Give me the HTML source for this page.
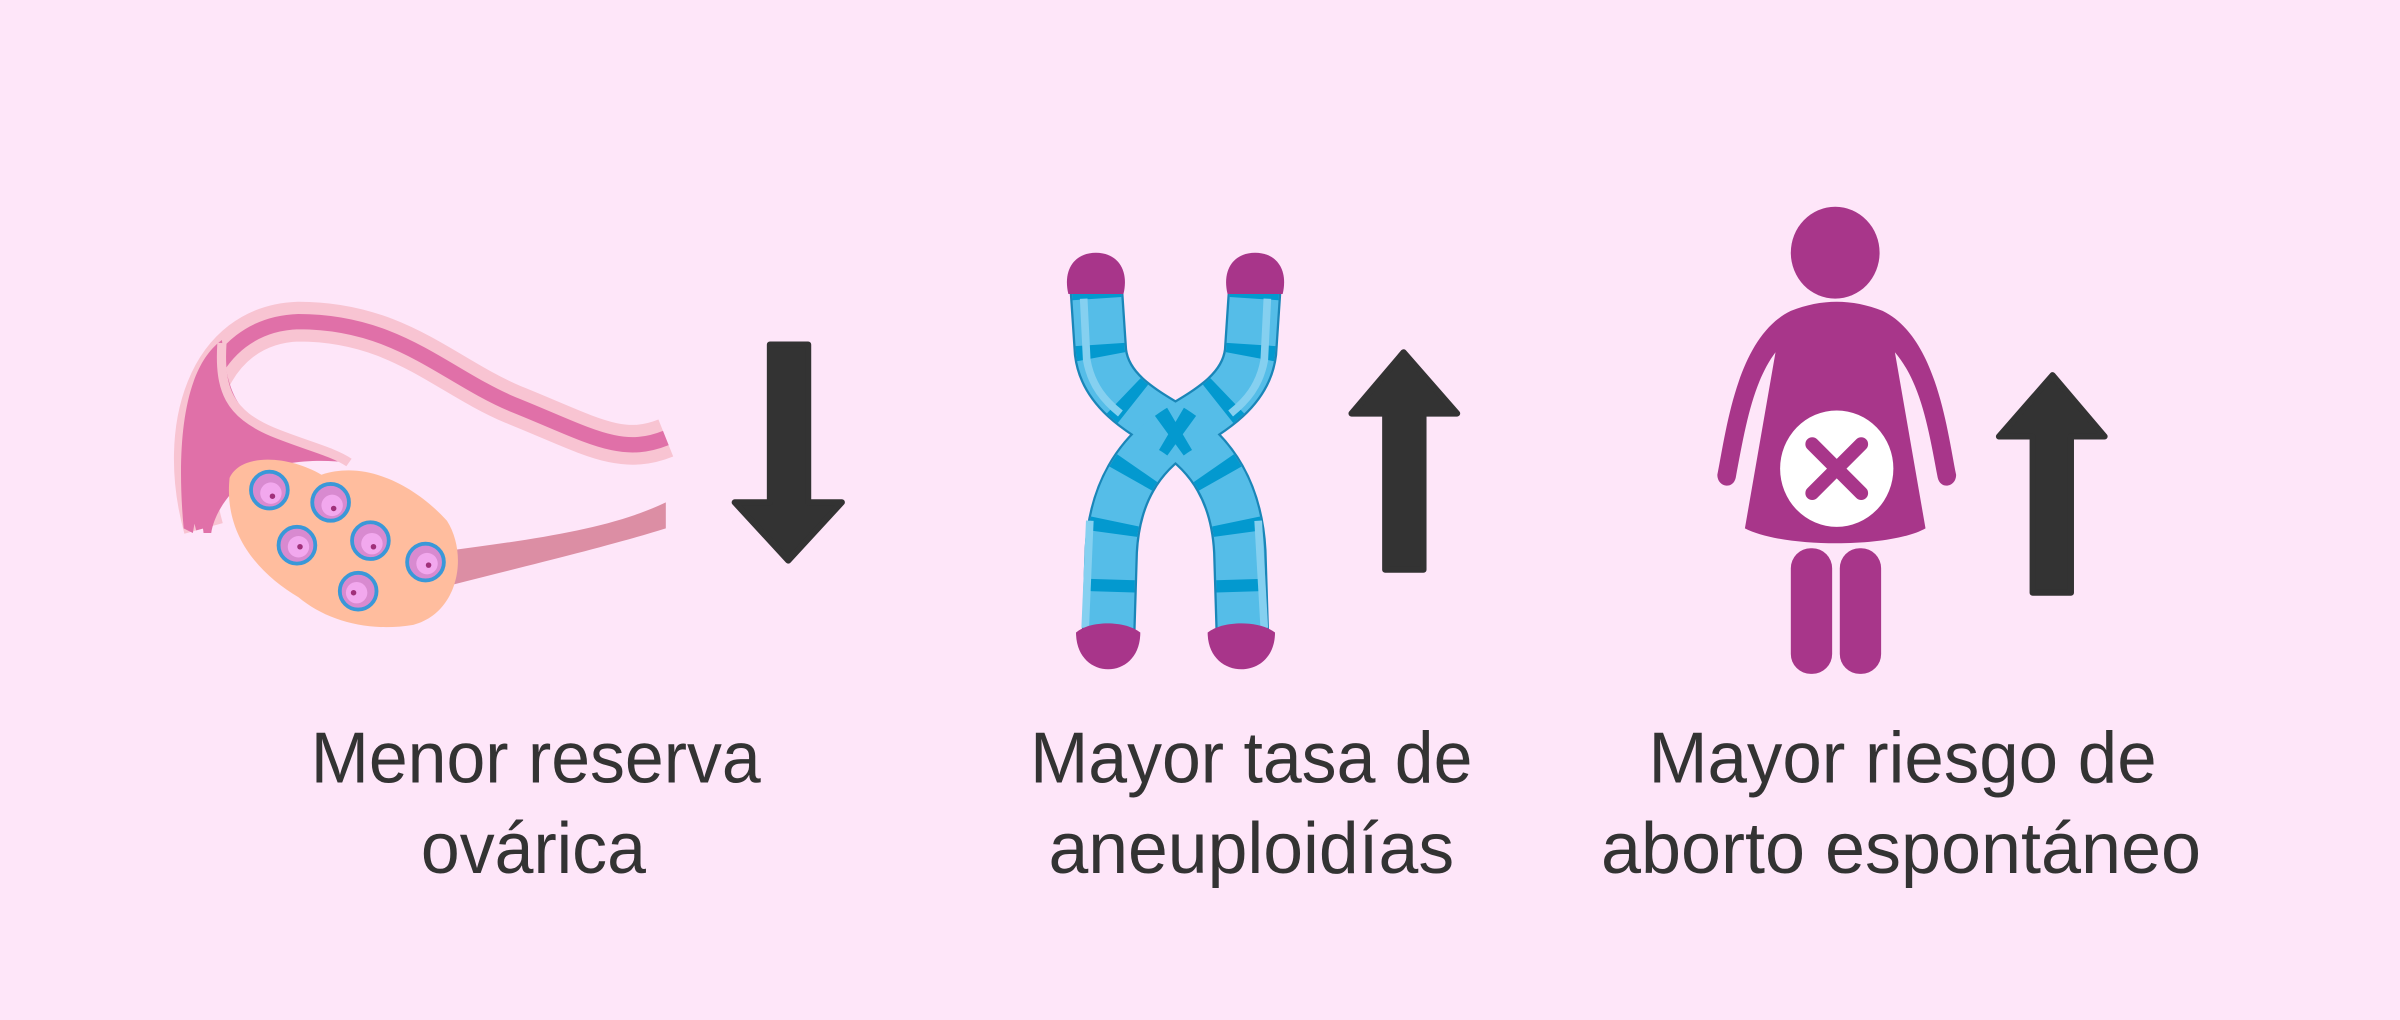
<!DOCTYPE html>
<html><head><meta charset="utf-8"><style>
html,body{margin:0;padding:0;background:#fee6f9;}
svg{display:block;}
text{font-family:"Liberation Sans",sans-serif;fill:#333;font-size:47px;}
</style></head><body>
<svg width="2400" height="1020" viewBox="0 0 1568 666" preserveAspectRatio="none">
<rect width="1568" height="666" fill="#fee6f9"/>
<!-- Ovary / tube -->
<path d="M133 345 C115 280,135 212,195 210 C260 210,290 245,335 264 C385 284,405 298,435 286" fill="none" stroke="#f8c4d2" stroke-width="26"/>
<path d="M133 345 C115 280,135 212,195 210 C260 210,290 245,335 264 C385 284,405 298,435 286" fill="none" stroke="#e070a8" stroke-width="10"/>
<path d="M120 345 C115 290,120 240,145 222 C148 250,152 268,175 280 C195 290,215 292,228 302 C210 300,185 300,165 310 C150 320,140 335,138 348 L133 348 L130 325 L126 348 Z" fill="#e070a8"/>
<path d="M145 224 C143 255,150 270,178 282 C200 291,218 295,228 302" fill="none" stroke="#f8c4d2" stroke-width="6"/>
<path d="M290 360 C350 352,400 345,435 328 L435 345 C400 356,350 368,295 382 Z" fill="#dc8ea4"/>
<path d="M150 312 C158 295,190 298,210 310 C240 300,272 318,292 340 C306 362,300 400,270 408 C240 413,213 405,195 390 C170 375,146 350,150 312 Z" fill="#ffbd9e"/>
<g stroke="#3a98d8" stroke-width="2.5" fill="#d88ad0">
<circle cx="176" cy="320" r="12"/><circle cx="216" cy="328" r="12"/><circle cx="194" cy="356" r="12"/>
<circle cx="242" cy="353" r="12"/><circle cx="278" cy="367" r="12"/><circle cx="234" cy="386" r="12"/>
</g>
<g fill="#f2a8ee">
<circle cx="177" cy="322" r="7"/><circle cx="217" cy="330" r="7"/><circle cx="195" cy="357" r="7"/>
<circle cx="243" cy="355" r="7"/><circle cx="279" cy="368" r="7"/><circle cx="233" cy="387" r="7"/>
</g>
<g fill="#a0307a">
<circle cx="178" cy="324" r="1.8"/><circle cx="218" cy="332" r="1.8"/><circle cx="196" cy="357" r="1.8"/>
<circle cx="244" cy="357" r="1.8"/><circle cx="280" cy="369" r="1.8"/><circle cx="231" cy="387" r="1.8"/>
</g>
<!-- Down arrow -->
<path d="M503 225 L528 225 L528 328 L550 328 L515 366 L480 328 L503 328 Z" fill="#333" stroke="#333" stroke-width="4" stroke-linejoin="round"/>
<!-- Chromosome -->
<g fill="none" stroke-linecap="butt">
<path id="c1" d="M716 185 L719 230 C722 255,745 268,767 281 C792 297,808 322,810 360 L812 425" stroke="#1a86b8" stroke-width="35"/>
<path id="c2" d="M820 185 L817 230 C814 255,791 268,769 281 C744 297,728 322,726 360 L724 425" stroke="#1a86b8" stroke-width="35"/>
<path d="M716 185 L719 230 C722 255,745 268,767 281 C792 297,808 322,810 360 L812 425" stroke="#55bde8" stroke-width="32"/>
<path d="M820 185 L817 230 C814 255,791 268,769 281 C744 297,728 322,726 360 L724 425" stroke="#55bde8" stroke-width="32"/>
<path d="M716 185 L719 230 C722 255,745 268,767 281 C792 297,808 322,810 360 L812 425" stroke="#0399cf" stroke-width="32" stroke-dasharray="8 30" stroke-dashoffset="-40"/>
<path d="M820 185 L817 230 C814 255,791 268,769 281 C744 297,728 322,726 360 L724 425" stroke="#0399cf" stroke-width="32" stroke-dasharray="8 30" stroke-dashoffset="-40"/>
<path d="M708 195 L710 235 C713 252,722 262,732 270" stroke="#85d0f0" stroke-width="5"/>
<path d="M828 195 L826 235 C823 252,814 262,804 270" stroke="#85d0f0" stroke-width="5"/>
<path d="M822 340 L826 410" stroke="#85d0f0" stroke-width="5"/>
<path d="M712 340 L709 410" stroke="#85d0f0" stroke-width="5"/>
</g>
<g fill="#a8358a">
<path d="M698 192 C694 175,703 165,716 165 C729 165,738 175,734 192 Z"/>
<path d="M802 192 C798 175,807 165,820 165 C833 165,842 175,838 192 Z"/>
<path d="M703 413 C703 445,745 445,745 413 C735 405,712 405,703 413 Z"/>
<path d="M789 413 C789 445,833 445,833 413 C823 405,799 405,789 413 Z"/>
</g>
<!-- Up arrow 1 -->
<path d="M905 372 L930 372 L930 270 L952 270 L917 230 L883 270 L905 270 Z" fill="#333" stroke="#333" stroke-width="4" stroke-linejoin="round"/>
<!-- Woman -->
<g fill="#a8368a">
<ellipse cx="1199" cy="165" rx="29" ry="30"/>
<path d="M1170 203 C1190 195,1210 195,1230 203 C1265 220,1272 280,1278 310 C1278 318,1268 320,1266 312 C1260 280,1255 250,1238 230 L1258 345 C1235 358,1165 358,1140 345 L1160 230 C1145 250,1140 280,1134 312 C1132 320,1122 318,1122 310 C1128 280,1135 220,1170 203 Z"/>
<rect x="1170" y="358" width="27" height="82" rx="13"/>
<rect x="1202" y="358" width="27" height="82" rx="13"/>
</g>
<ellipse cx="1200" cy="306" rx="37" ry="38" fill="#fff"/>
<path d="M1184 290 L1216 322 M1216 290 L1184 322" stroke="#a8368a" stroke-width="9" stroke-linecap="round"/>
<!-- Up arrow 2 -->
<path d="M1328 387 L1353 387 L1353 285 L1375 285 L1341 245 L1306 285 L1328 285 Z" fill="#333" stroke="#333" stroke-width="4" stroke-linejoin="round"/>
<!-- Labels -->
<text x="203" y="511" textLength="294" lengthAdjust="spacingAndGlyphs">Menor reserva</text>
<text x="275" y="570" textLength="147" lengthAdjust="spacingAndGlyphs">ovárica</text>
<text x="673" y="511" textLength="289" lengthAdjust="spacingAndGlyphs">Mayor tasa de</text>
<text x="685" y="570" textLength="265" lengthAdjust="spacingAndGlyphs">aneuploidías</text>
<text x="1077" y="511" textLength="332" lengthAdjust="spacingAndGlyphs">Mayor riesgo de</text>
<text x="1046" y="570" textLength="392" lengthAdjust="spacingAndGlyphs">aborto espontáneo</text>
</svg>
</body></html>
